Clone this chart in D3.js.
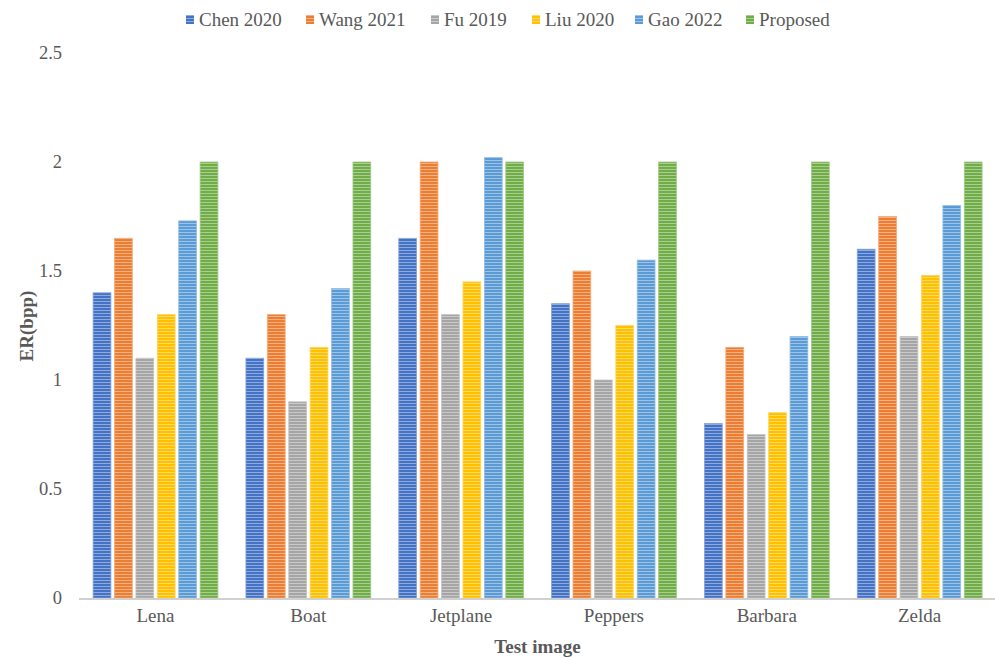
<!DOCTYPE html>
<html>
<head>
<meta charset="utf-8">
<script src="https://cdn.jsdelivr.net/npm/d3@7"></script>
<style>
  html, body { margin: 0; padding: 0; background: #fff; }
  svg { display: block; font-family: "Liberation Serif", "Times New Roman", serif; }
</style>
</head>
<body>
<svg id="chart" width="995" height="657"></svg>
<script>
// Embedding rate (bpp) per test image for each method
const categories = ["Lena", "Boat", "Jetplane", "Peppers", "Barbara", "Zelda"];
const seriesNames = ["Chen 2020", "Wang 2021", "Fu 2019", "Liu 2020", "Gao 2022", "Proposed"];
const chen2020 = [1.4, 1.1, 1.65, 1.35, 0.8, 1.6];
const wang2021 = [1.65, 1.3, 2.0, 1.5, 1.15, 1.75];
const fu2019   = [1.1, 0.9, 1.3, 1.0, 0.75, 1.2];
const liu2020  = [1.3, 1.15, 1.45, 1.25, 0.85, 1.48];
const gao2022  = [1.73, 1.42, 2.02, 1.55, 1.2, 1.8];
const proposed = [2.0, 2.0, 2.0, 2.0, 2.0, 2.0];
const yTicks = [0, 0.5, 1, 1.5, 2, 2.5];
const colors = ["#4472C4", "#ED7D31", "#A5A5A5", "#FFC000", "#5B9BD5", "#70AD47"];

const seriesValues = [chen2020, wang2021, fu2019, liu2020, gao2022, proposed];
const rows = categories.map((c, i) => ({
  cat: c,
  vals: seriesNames.map((s, j) => ({ key: s, idx: j, v: seriesValues[j][i] }))
}));

const svg = d3.select("#chart");
const textColor = "#595959";

const x0 = d3.scaleBand().domain(categories).range([79, 996]).padding(0);
const x1 = d3.scaleBand().domain(seriesNames)
  .range([14.1, x0.bandwidth() - 13.9]).paddingInner(0.168).paddingOuter(0);
const y = d3.scaleLinear().domain([0, 2.5]).range([598, 53]);

// striped fills: base colour with thin light horizontal lines
const defs = svg.append("defs");
colors.forEach((c, i) => {
  const p = defs.append("pattern")
    .attr("id", "stripe" + i)
    .attr("patternUnits", "userSpaceOnUse")
    .attr("width", 6).attr("height", 3);
  p.append("rect").attr("width", 6).attr("height", 3).attr("fill", c);
  p.append("rect").attr("y", 1).attr("width", 6).attr("height", 1)
    .attr("fill", d3.interpolateRgb(c, "#ffffff")(0.4));
});

// bars
const groups = svg.append("g").selectAll("g").data(rows).join("g")
  .attr("transform", d => `translate(${x0(d.cat)},0)`);
groups.selectAll("rect").data(d => d.vals).join("rect")
  .attr("x", d => x1(d.key))
  .attr("y", d => y(d.v))
  .attr("width", x1.bandwidth())
  .attr("height", d => y(0) - y(d.v))
  .attr("fill", d => `url(#stripe${d.idx})`)
  .attr("stroke", d => d3.interpolateRgb(colors[d.idx], "#ffffff")(0.35))
  .attr("stroke-width", 0.8);

// baseline
svg.append("line")
  .attr("x1", 79).attr("x2", 996)
  .attr("y1", y(0) + 1).attr("y2", y(0) + 1)
  .attr("stroke", "#D0D0D0").attr("stroke-width", 2);

// y axis labels
const yAxis = d3.axisLeft(y).tickValues(yTicks).tickSize(0).tickPadding(0)
  .tickFormat(d => d3.format("~g")(d));
const gy = svg.append("g").attr("transform", "translate(62,0)").call(yAxis);
gy.select(".domain").remove();
gy.selectAll("text").attr("fill", textColor).attr("font-size", "18.5px")
  .attr("font-family", "Liberation Serif, serif").attr("dy", "0.32em");

// x axis labels
const xAxis = d3.axisBottom(x0).tickSize(0).tickPadding(0);
const gx = svg.append("g").attr("transform", "translate(0,608)").call(xAxis);
gx.select(".domain").remove();
gx.selectAll("text").attr("fill", textColor).attr("font-size", "19px")
  .attr("font-family", "Liberation Serif, serif").attr("dy", "0.71em");

// axis titles
svg.append("text")
  .attr("x", 537.5).attr("y", 653)
  .attr("text-anchor", "middle")
  .attr("font-weight", "bold").attr("font-size", "19px")
  .attr("fill", textColor)
  .text("Test image");
svg.append("text")
  .attr("transform", "translate(33,326) rotate(-90)")
  .attr("text-anchor", "middle")
  .attr("font-weight", "bold").attr("font-size", "19px")
  .attr("fill", textColor)
  .text("ER(bpp)");

// legend
const legendX = [186, 306, 431, 532, 635, 746];
const legend = svg.append("g").selectAll("g").data(seriesNames).join("g")
  .attr("transform", (d, i) => `translate(${legendX[i]},20)`);
legend.append("rect")
  .attr("x", 0).attr("y", -5).attr("width", 8).attr("height", 9)
  .attr("fill", (d, i) => `url(#stripe${i})`);
legend.append("text")
  .attr("x", 13).attr("y", 0).attr("dy", "0.34em")
  .attr("font-size", "19px").attr("fill", textColor)
  .text(d => d);
</script>
</body>
</html>
